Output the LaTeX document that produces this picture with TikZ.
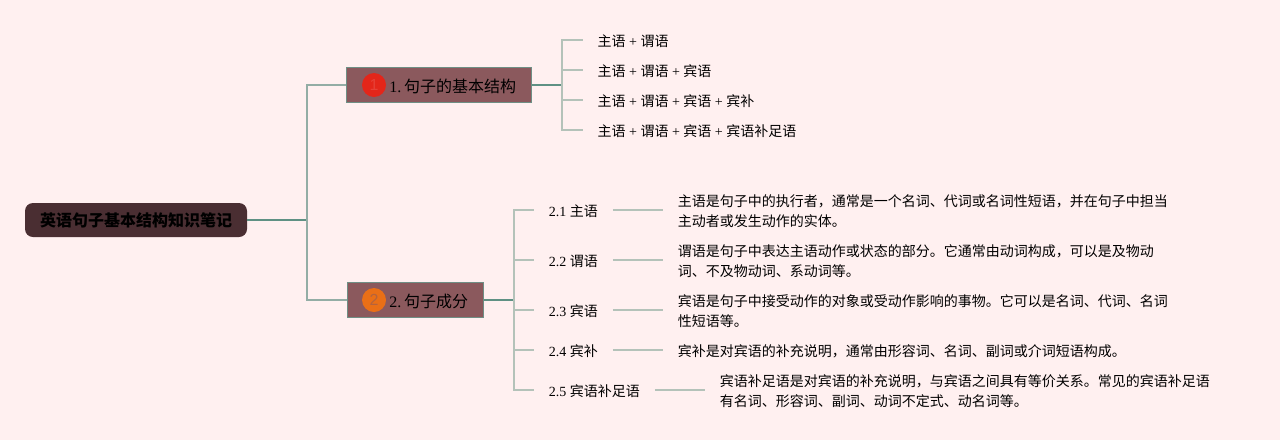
\documentclass[tikz,border=0pt]{standalone}
\usepackage{fontspec}
\setmainfont{Liberation Serif}
\setsansfont{Liberation Sans}
\newfontfamily\cjk{Noto Sans CJK SC}
\definecolor{notebg}{HTML}{FFF0F0}
\definecolor{notedark}{HTML}{4A2E32}
\definecolor{notebranch}{HTML}{8B595D}
\definecolor{noteedge}{HTML}{6F8F85}
\definecolor{notetrunk}{HTML}{93ADA5}
\definecolor{notejoin}{HTML}{5F9184}
\definecolor{noteleaf}{HTML}{B4C2B9}
\definecolor{notered}{HTML}{E3261A}
\definecolor{noteorange}{HTML}{E96F17}
\newcommand{\zh}[1]{{\cjk #1}}
\usetikzlibrary{positioning}
\begin{document}
\begin{tikzpicture}[
  x=0.75pt, y=-0.75pt,
  font=\fontsize{10.5pt}{15pt}\selectfont,
  rootbox/.style={fill=notedark, rounded corners=6pt, minimum width=166.5pt, minimum height=25.5pt,
             inner sep=0pt, font=\fontsize{12pt}{15pt}\selectfont},
  branchbox/.style={draw=noteedge, fill=notebranch, line width=0.75pt, minimum height=26pt, inner sep=0pt},
  branchtext/.style={anchor=west, inner sep=0pt, font=\fontsize{12pt}{15pt}\selectfont},
  badge/.style={circle, minimum size=18pt, inner sep=0pt, font=\fontsize{12pt}{12pt}\sffamily},
  leaf/.style={anchor=west, inner xsep=11pt, inner ysep=0pt, text height=11.5pt, text depth=2.5pt},
  desc/.style={anchor=west, align=left, inner xsep=11pt, inner ysep=0pt},
  trunk/.style={draw=notetrunk, line width=0.9pt},
  joinline/.style={draw=notejoin, line width=0.9pt},
  leafline/.style={draw=noteleaf, line width=0.9pt},
]
\useasboundingbox[fill=notebg] (0,0) rectangle (1280,440);
\node[rootbox] (root) at (136,220) {\cjk\textbf{英语句子基本结构知识笔记}};
\node[branchbox, minimum width=138.5pt] (b1) at (439.3,85) {};
\node[branchbox, minimum width=102.2pt] (b2) at (415.2,300) {};
\node[badge, fill=notered, text=notered!88!white] (n1) at (374,85) {1};
\node[badge, fill=noteorange, text=notebranch!55!noteorange] (n2) at (374,300) {2};
\node[branchtext] (t1) at (389,86) {1.\hspace{2.2pt}\zh{句子的基本结构}};
\node[branchtext] (t2) at (389,301) {2.\hspace{2.2pt}\zh{句子成分}};
% first branch
\coordinate (j1) at (562,85);
\node[leaf] (a1) at (582.7,40)  {\zh{主语} + \zh{谓语}};
\node[leaf] (a2) at (582.7,70)  {\zh{主语} + \zh{谓语} + \zh{宾语}};
\node[leaf] (a3) at (582.7,100) {\zh{主语} + \zh{谓语} + \zh{宾语} + \zh{宾补}};
\node[leaf] (a4) at (582.7,130) {\zh{主语} + \zh{谓语} + \zh{宾语} + \zh{宾语补足语}};
% second branch
\coordinate (j2) at (514,300);
\node[leaf] (s1) at (534,210) {2.1 \zh{主语}};
\node[leaf] (s2) at (534,260) {2.2 \zh{谓语}};
\node[leaf] (s3) at (534,310) {2.3 \zh{宾语}};
\node[leaf] (s4) at (534,350) {2.4 \zh{宾补}};
\node[leaf] (s5) at (534,390) {2.5 \zh{宾语补足语}};
\node[desc] (d1) at (663,211.5) {\zh{主语是句子中的执行者，通常是一个名词、代词或名词性短语，并在句子中担当}\\\zh{主动者或发生动作的实体。}};
\node[desc] (d2) at (663,261.5) {\zh{谓语是句子中表达主语动作或状态的部分。它通常由动词构成，可以是及物动}\\\zh{词、不及物动词、系动词等。}};
\node[desc] (d3) at (663,311.5) {\zh{宾语是句子中接受动作的对象或受动作影响的事物。它可以是名词、代词、名词}\\\zh{性短语等。}};
\node[desc] (d4) at (663,351.5) {\zh{宾补是对宾语的补充说明，通常由形容词、名词、副词或介词短语构成。}};
\node[desc] (d5) at (705,391.5) {\zh{宾语补足语是对宾语的补充说明，与宾语之间具有等价关系。常见的宾语补足语}\\\zh{有名词、形容词、副词、动词不定式、动名词等。}};
\coordinate (j0) at (307,220);
\draw[joinline] (root.east) -- (j0);
\draw[trunk] (j0) |- (b1.west);
\draw[trunk] (j0) |- (b2.west);
\draw[joinline] (b1.east) -- (j1);
\draw[joinline] (b2.east) -- (j2);
\foreach \leafname in {a1,a2,a3,a4} \draw[leafline] (j1) |- (\leafname.west);
\foreach \leafname in {s1,s2,s3,s4,s5} \draw[leafline] (j2) |- (\leafname.west);
\draw[leafline] (s1.east) -- (s1.east -| d1.west);
\draw[leafline] (s2.east) -- (s2.east -| d2.west);
\draw[leafline] (s3.east) -- (s3.east -| d3.west);
\draw[leafline] (s4.east) -- (s4.east -| d4.west);
\draw[leafline] (s5.east) -- (s5.east -| d5.west);
\end{tikzpicture}
\end{document}
